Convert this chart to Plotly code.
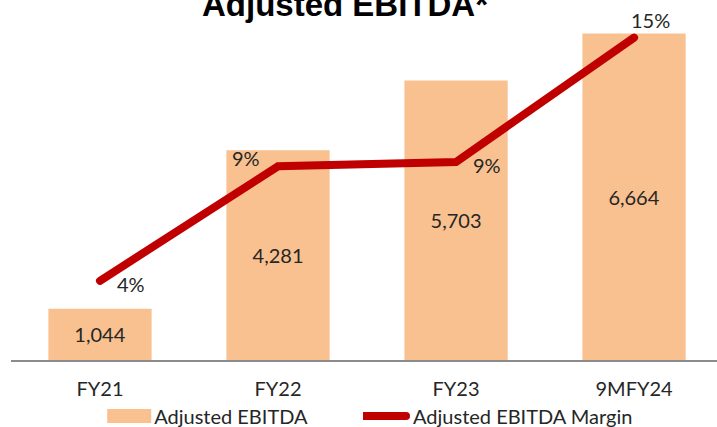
import plotly.graph_objects as go

categories = ["FY21", "FY22", "FY23", "9MFY24"]
ebitda = [1044, 4281, 5703, 6664]
ebitda_labels = ["1,044", "4,281", "5,703", "6,664"]
margin = [3.6, 8.8, 9.0, 14.65]
margin_labels = ["4%", "9%", "9%", "15%"]
# label offsets (px) relative to each margin point
label_dx = [31, -32, 31, 16]
label_dy = [-3, 8, -3, 18]

FONT = "Lato, 'Open Sans', sans-serif"
TXT = "#262626"

fig = go.Figure()
fig.add_trace(go.Bar(
    x=categories, y=ebitda, name="Adjusted EBITDA", legend="legend",
    marker=dict(color="#F9C190", line=dict(width=0)),
    text=ebitda_labels, textposition="inside", insidetextanchor="middle",
    textfont=dict(size=20, color=TXT, family=FONT),
    textangle=0, hoverinfo="skip",
))
fig.add_trace(go.Scatter(
    x=categories, y=margin, name="Adjusted EBITDA Margin", yaxis="y2", legend="legend2",
    mode="lines", line=dict(color="#C00000", width=8),
    hoverinfo="skip",
))

annotations = [dict(text="<b>Adjusted EBITDA*</b>", xref="paper", yref="paper",
                    x=0.473, y=1, xanchor="center", yanchor="bottom", yshift=-5,
                    showarrow=False,
                    font=dict(size=33, color="black", family="'Liberation Sans', Arial, sans-serif"))]
for c, m, t, dx, dy in zip(categories, margin, margin_labels, label_dx, label_dy):
    annotations.append(dict(x=c, y=m, xref="x", yref="y2", text=t, showarrow=False,
                            xanchor="center", yanchor="middle", xshift=dx, yshift=dy,
                            font=dict(size=20, color=TXT, family=FONT)))

legend_common = dict(orientation="h", xanchor="left", y=-0.165, yanchor="middle",
                     font=dict(size=20, color=TXT, family=FONT), itemwidth=40,
                     bgcolor="rgba(0,0,0,0)")

fig.update_layout(
    width=717, height=427,
    margin=dict(l=11, r=0, t=20, b=67, autoexpand=False),
    paper_bgcolor="white", plot_bgcolor="white",
    bargap=0.42,
    showlegend=True,
    legend=dict(x=0.132, **legend_common),
    legend2=dict(x=0.4986, **legend_common),
    xaxis=dict(range=[-0.5, 3.466], showline=True, linecolor="#8c8c8c", linewidth=1.5,
               ticks="", showgrid=False, automargin=False, ticklabelstandoff=10,
               tickfont=dict(size=20, color=TXT, family=FONT)),
    yaxis=dict(range=[0, 6940], visible=False, showgrid=False, automargin=False),
    yaxis2=dict(range=[0, 15.45], overlaying="y", side="right", visible=False,
                showgrid=False, automargin=False),
    annotations=annotations,
)

post = """
document.body.style.margin='0';
function fixStyle(){
  document.querySelectorAll('.scatterlayer .js-line').forEach(function(p){p.style.strokeLinecap='round';});
  document.querySelectorAll('g.legend .legendpoints path').forEach(function(p){p.setAttribute('d','M22,7H-22V-7H22Z');});
  document.querySelectorAll('.legendlines path').forEach(function(p){p.setAttribute('d','M-1,0h44');p.style.strokeLinecap='round';p.style.strokeWidth='8px';});
}
var gdiv = document.querySelector('.plotly-graph-div');
if (gdiv && gdiv.on) { gdiv.on('plotly_afterplot', fixStyle); }
fixStyle();
setTimeout(fixStyle, 0);
setTimeout(fixStyle, 300);
"""

fig.write_html("out.html", config={"displayModeBar": False}, post_script=post)
